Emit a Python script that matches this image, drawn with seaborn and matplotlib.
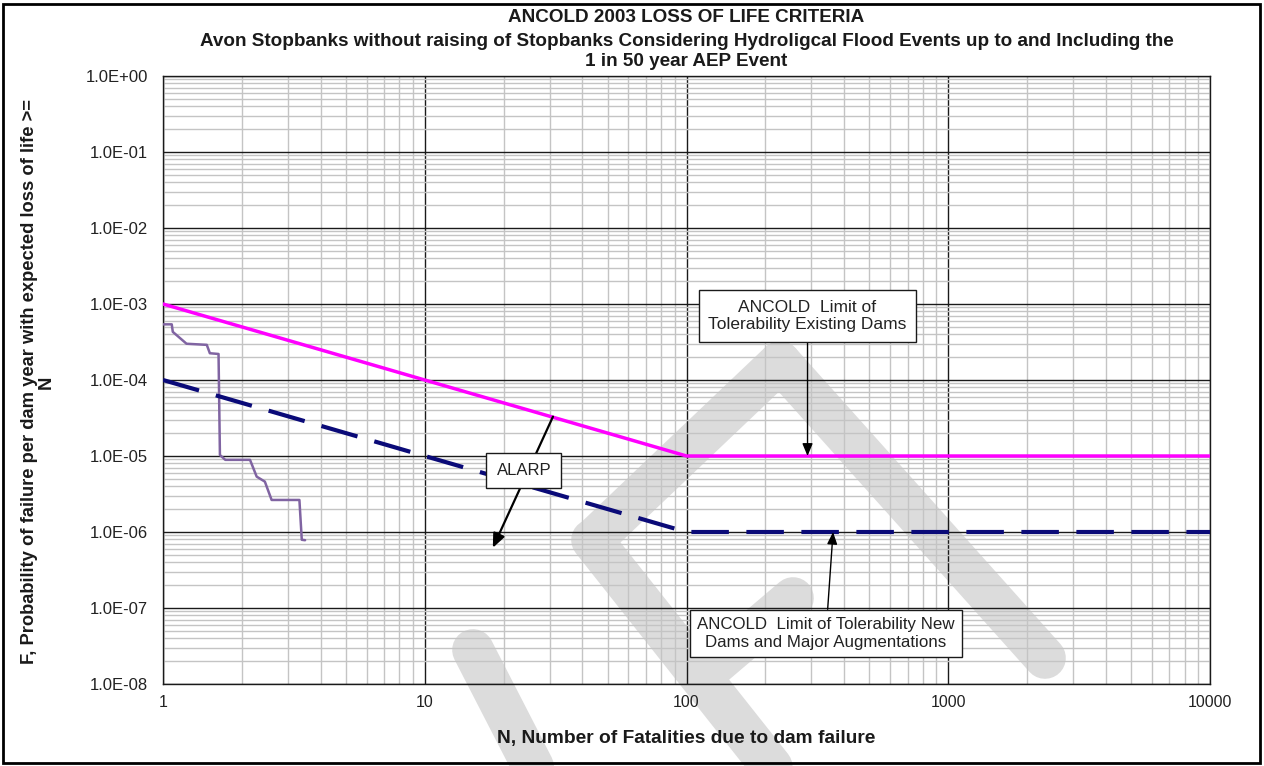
import numpy as np
import pandas as pd
import matplotlib
matplotlib.use("Agg")
import matplotlib.pyplot as plt
import matplotlib.ticker as mticker
from matplotlib.lines import Line2D
from matplotlib.patches import Rectangle
import seaborn as sns

# ---------------- data ----------------
# ANCOLD limit of tolerability, existing dams
existing_n = [1, 100, 10000]
existing_f = [1e-3, 1e-5, 1e-5]
# ANCOLD limit of tolerability, new dams and major augmentations
new_n = [1, 100, 10000]
new_f = [1e-4, 1e-6, 1e-6]
# Avon stopbanks F-N curve
avon_n = [1.00, 1.08, 1.09, 1.23, 1.47, 1.51, 1.63, 1.65, 1.73, 2.15, 2.28, 2.45, 2.60, 3.32, 3.39, 3.49]
avon_f = [5.4e-4, 5.4e-4, 4.3e-4, 3.0e-4, 2.9e-4, 2.25e-4, 2.2e-4, 1.03e-5, 8.9e-6, 8.9e-6,
          5.35e-6, 4.6e-6, 2.64e-6, 2.64e-6, 7.9e-7, 7.8e-7]

x_ticks = [1, 10, 100, 1000, 10000]
x_tick_labels = ["1", "10", "100", "1000", "10000"]
y_ticks = [10.0 ** k for k in range(-8, 1)]

title_lines = ["ANCOLD 2003 LOSS OF LIFE CRITERIA",
               "Avon Stopbanks without raising of Stopbanks Considering Hydroligcal Flood Events up to and Including the",
               "1 in 50 year AEP Event"]
xlabel = "N, Number of Fatalities due to dam failure"
ylabel = "F, Probability of failure per dam year with expected loss of life >=\nN"

# annotation anchors (data coords)
ann_existing_text = "ANCOLD  Limit of\nTolerability Existing Dams"
ann_existing_xy = (290, 1.0e-5)
ann_existing_xytext = (290, 6.9e-4)
ann_new_text = "ANCOLD  Limit of Tolerability New\nDams and Major Augmentations"
ann_new_xy = (363, 1.0e-6)
ann_new_xytext = (341, 4.6e-8)
ann_alarp_text = "ALARP"
ann_alarp_from = (30.9, 3.3e-5)
ann_alarp_to = (18.2, 6.2e-7)
ann_alarp_pos = (23.9, 6.5e-6)

# ---------------- style ----------------
sns.set_theme(style="white")
plt.rcParams["font.family"] = ["Liberation Sans", "DejaVu Sans"]

W, H = 1264, 766
fig = plt.figure(figsize=(W / 100, H / 100), dpi=100)
fig.patch.set_facecolor("white")
ax = fig.add_axes([163 / W, 1 - 684 / H, 1047 / W, 608 / H])
ax.set_facecolor("none")

# ---------------- lines ----------------
df_e = pd.DataFrame({"N": existing_n, "F": existing_f})
df_n = pd.DataFrame({"N": new_n, "F": new_f})
df_a = pd.DataFrame({"N": avon_n, "F": avon_f})

sns.lineplot(data=df_a, x="N", y="F", ax=ax, estimator=None, sort=False,
             color="#8064a2", linewidth=1.8, zorder=3)
sns.lineplot(data=df_n, x="N", y="F", ax=ax, estimator=None, sort=False,
             color="#0a0a78", linewidth=3.0, zorder=3)
ax.lines[-1].set_dashes((9.0, 4.2))
sns.lineplot(data=df_e, x="N", y="F", ax=ax, estimator=None, sort=False,
             color="#ff00ff", linewidth=2.5, zorder=3)
ax.set_xlabel("")
ax.set_ylabel("")

ax.set_xscale("log")
ax.set_yscale("log")
ax.set_xlim(1, 10000)
ax.set_ylim(1e-8, 1)

ax.set_axisbelow(True)
ax.grid(which="minor", color="#c4c4c4", lw=1.0)
ax.grid(which="major", color="#1a1a1a", lw=1.0)
ax.xaxis.set_minor_locator(mticker.LogLocator(base=10, subs=np.arange(2, 10), numticks=20))
ax.yaxis.set_minor_locator(mticker.LogLocator(base=10, subs=np.arange(2, 10), numticks=20))
ax.set_xticks(x_ticks)
ax.set_xticklabels(x_tick_labels)
ax.set_yticks(y_ticks)
ax.yaxis.set_major_formatter(mticker.FuncFormatter(lambda v, p: f"{v:.1E}"))
ax.xaxis.set_minor_formatter(mticker.NullFormatter())
ax.yaxis.set_minor_formatter(mticker.NullFormatter())
ax.tick_params(axis="x", which="both", length=0, pad=8, labelsize=11.5, colors="#222222")
ax.tick_params(axis="y", which="major", direction="inout", length=8, width=1, pad=7,
               labelsize=12, colors="#222222")
ax.tick_params(axis="y", which="minor", direction="in", length=3, width=0.8, color="#555555")
for s in ax.spines.values():
    s.set_color("#1a1a1a")
    s.set_linewidth(1.0)

# ---------------- watermark (decorative, behind the transparent axes) ----------------
def fpx(x, y):
    return (x / W, 1 - y / H)

strokes = [((592, 540), (790, 790)),
           ((596, 537), (780, 362)),
           ((780, 362), (1045, 658)),
           ((706, 672), (793, 598)),
           ((473, 650), (545, 790))]
for (x0, y0), (x1, y1) in strokes:
    a, b = fpx(x0, y0), fpx(x1, y1)
    fig.add_artist(Line2D([a[0], b[0]], [a[1], b[1]], transform=fig.transFigure,
                          color="#dcdcdc", lw=30, solid_capstyle="round", zorder=-1))

# ---------------- annotations ----------------
arrow = dict(arrowstyle="-|>,head_length=0.6,head_width=0.25", color="black", lw=1.0,
             shrinkA=0, shrinkB=0)
ax.annotate(ann_existing_text, xy=ann_existing_xy, xytext=ann_existing_xytext,
            ha="center", va="center", fontsize=12.5, color="#222222",
            bbox=dict(boxstyle="square,pad=0.55", fc="white", ec="#1a1a1a", lw=1.0),
            arrowprops=arrow, zorder=6, linespacing=1.2)
ax.annotate(ann_new_text, xy=ann_new_xy, xytext=ann_new_xytext,
            ha="center", va="center", fontsize=12.2, color="#222222",
            bbox=dict(boxstyle="square,pad=0.45", fc="white", ec="#1a1a1a", lw=1.0),
            arrowprops=arrow, zorder=6, linespacing=1.2)
ax.annotate("", xy=ann_alarp_to, xytext=ann_alarp_from,
            arrowprops=dict(arrowstyle="-|>,head_length=0.7,head_width=0.3", color="black",
                            lw=1.6, shrinkA=0, shrinkB=0), zorder=5)
ax.text(*ann_alarp_pos, ann_alarp_text, ha="center", va="center", fontsize=12,
        color="#222222", zorder=7,
        bbox=dict(boxstyle="square,pad=0.6", fc="white", ec="#1a1a1a", lw=1.0))

# ---------------- titles & labels ----------------
cx = (163 + 1210) / 2 / W
tkw = dict(ha="center", va="center", fontsize=13.6, fontweight="bold", color="#1a1a1a")
fig.text(cx, 1 - 18 / H, title_lines[0], **tkw)
fig.text(cx, 1 - 41 / H, title_lines[1], **tkw)
fig.text(cx, 1 - 62 / H, title_lines[2], **tkw)
fig.text(cx, 1 - 739 / H, xlabel, ha="center", va="center", fontsize=13.8,
         fontweight="bold", color="#1a1a1a")
fig.text(38 / W, 1 - 382 / H, ylabel, ha="center", va="center", rotation=90,
         fontsize=13.2, fontweight="bold", color="#1a1a1a", multialignment="center",
         linespacing=0.95)

fig.add_artist(Rectangle((3 / W, 3 / H), 1 - 7 / W, 1 - 7 / H, transform=fig.transFigure,
                         fill=False, ec="black", lw=2.0, zorder=10))

fig.savefig("out.png", dpi=100, facecolor="white")
